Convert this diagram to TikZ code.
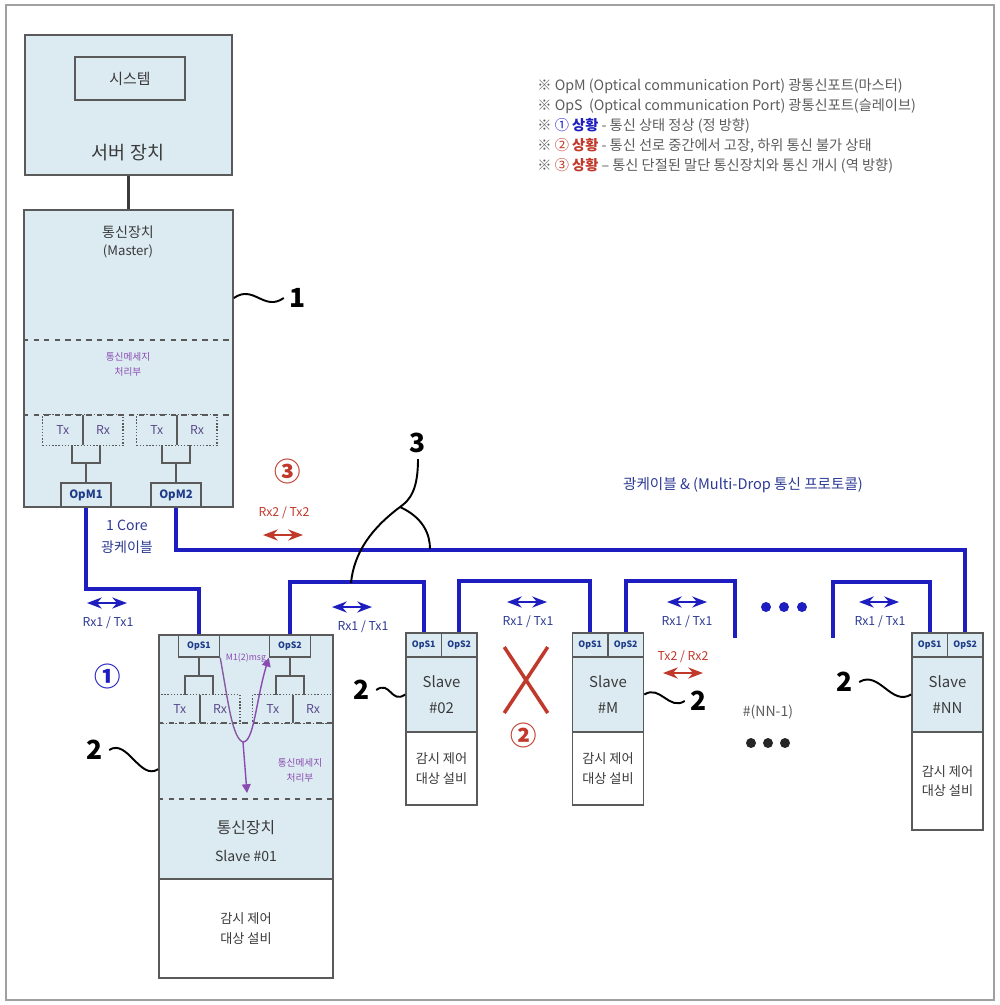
\documentclass[tikz,border=0pt]{standalone}
\usepackage{fontspec}
\setmainfont{Noto Sans CJK KR}
\usetikzlibrary{arrows.meta, positioning, fit, calc, shapes.misc}
\definecolor{DevBlue}{HTML}{DCEBF2}
\definecolor{LineGray}{HTML}{5A5A5A}
\definecolor{FrameGray}{HTML}{A0A0A0}
\definecolor{CableBlue}{HTML}{1E1EC0}
\definecolor{LabelBlue}{HTML}{2C3A94}
\definecolor{PortBlue}{HTML}{1F3C88}
\definecolor{AlarmRed}{HTML}{C0392B}
\definecolor{MsgPurple}{HTML}{8A4AB0}
\definecolor{TrxPurple}{HTML}{5A4A8A}
\definecolor{TextGray}{HTML}{3A3A3A}
\definecolor{NoteGray}{HTML}{5C5C5C}
\tikzset{
    % boxes
    devbox/.style={
        rectangle,
        draw=LineGray,
        fill=DevBlue,
        line width=1pt,
        inner sep=0pt,
        text=TextGray
    },
    eqbox/.style={
        rectangle,
        draw=LineGray,
        fill=white,
        line width=1pt,
        inner sep=0pt,
        align=center,
        text=TextGray,
        font=\fontsize{7.5}{11}\selectfont
    },
    portbox/.style={
        rectangle,
        draw=LineGray,
        fill=DevBlue,
        line width=0.8pt,
        inner sep=0pt,
        text=PortBlue,
        font=\fontsize{5}{6}\selectfont\bfseries
    },
    trxcell/.style={
        rectangle,
        inner sep=0pt,
        minimum width=0.79cm,
        text=TrxPurple,
        font=\fontsize{7}{8}\selectfont
    },
    trxgroup/.style={
        rectangle,
        draw=LineGray,
        densely dotted,
        line width=0.8pt,
        inner sep=0pt
    },
    msgtext/.style={
        align=center,
        text=MsgPurple,
        font=\fontsize{5.5}{8.5}\selectfont
    },
    note/.style={
        anchor=west,
        text=NoteGray,
        inner sep=0pt,
        font=\fontsize{8.1}{9}\selectfont
    },
    refnum/.style={
        font=\fontsize{15}{16}\selectfont\bfseries
    },
    casemark/.style={
        font=\fontsize{15}{16}\selectfont\bfseries
    },
    linklbl/.style={
        text=LabelBlue,
        font=\fontsize{7}{8}\selectfont
    },
    % lines
    wire/.style={draw=LineGray, line width=0.8pt},
    divider/.style={draw=LineGray, line width=1pt, dashed},
    cable/.style={draw=CableBlue, line width=2.2pt},
    duplex/.style={{Stealth}-{Stealth}, draw=CableBlue, line width=1.2pt},
    reverse/.style={{Stealth}-{Stealth}, draw=AlarmRed, line width=1.2pt},
    leader/.style={draw=black, line width=1.1pt},
    msgline/.style={draw=MsgPurple!70!gray, line width=0.8pt}
}

\begin{document}
\begin{tikzpicture}[x=0.02cm, y=-0.02cm]
    \useasboundingbox (0,0) rectangle (1000,1005);
    \draw[FrameGray, line width=1pt] (6,5) rectangle (994,1000);

    % Legend
    \node[note] (lg1) at (537,86) {※ OpM (Optical communication Port) 광통신포트(마스터)};
    \node[note] (lg2) at (537,106) {※ OpS\ \ (Optical communication Port) 광통신포트(슬레이브)};
    \node[note] (lg3) at (537,126) {※ {\color{CableBlue}① \bfseries 상황} - 통신 상태 정상 (정 방향)};
    \node[note] (lg4) at (537,146) {※ {\color{AlarmRed}② \bfseries 상황} - 통신 선로 중간에서 고장, 하위 통신 불가 상태};
    \node[note] (lg5) at (537,166) {※ {\color{AlarmRed}③ \bfseries 상황} – 통신 단절된 말단 통신장치와 통신 개시 (역 방향)};

    % Server
    \node[devbox, minimum width=4.14cm, minimum height=2.8cm] (server) at (128.5,105) {};
    \node[devbox, minimum width=2.2cm, minimum height=0.86cm, font=\fontsize{8.5}{10}\selectfont] (sys) at (130,78.5) {시스템};
    \node[text=TextGray, font=\fontsize{10.5}{12}\selectfont] (srvlbl) at (128,153) {서버 장치};

    % Master
    \node[devbox, minimum width=4.18cm, minimum height=5.94cm] (master) at (128.5,358.5) {};
    \draw[line width=1.6pt, draw=TextGray] (server.south) -- (master.north);
    \node[text=TextGray, font=\fontsize{8}{9}\selectfont] (mlbl1) at (128,232) {통신장치};
    \node[text=TextGray, font=\fontsize{7.5}{9}\selectfont] (mlbl2) at (128,251) {(Master)};
    \draw[divider] (master.west |- 0,340) -- (master.east |- 0,340);
    \draw[divider] (master.west |- 0,415) -- (master.east |- 0,415);
    \node[msgtext] (mmsg) at (128,364.5) {통신메세지\\처리부};

    % Master Tx/Rx and ports
    \node[trxcell, minimum height=0.6cm] (mtx1) at (62.75,430) {Tx};
    \node[trxcell, minimum height=0.6cm, right=0pt of mtx1] (mrx1) {Rx};
    \node[trxcell, minimum height=0.6cm] (mtx2) at (156.75,430) {Tx};
    \node[trxcell, minimum height=0.6cm, right=0pt of mtx2] (mrx2) {Rx};
    \node[trxgroup, fit=(mtx1)(mrx1)] (mgrp1) {};
    \node[trxgroup, fit=(mtx2)(mrx2)] (mgrp2) {};
    \draw[wire] (mtx1.north east) -- (mtx1.south east);
    \draw[wire] (mtx2.north east) -- (mtx2.south east);
    \node[portbox, minimum width=1.0cm, minimum height=0.48cm, font=\fontsize{6.5}{7}\selectfont\bfseries] (opm1) at (86,495) {OpM1};
    \node[portbox, minimum width=1.0cm, minimum height=0.48cm, font=\fontsize{6.5}{7}\selectfont\bfseries] (opm2) at (176,495) {OpM2};
    \draw[wire] (mtx1.south -| 72,0) |- (100,463) -- (mrx1.south -| 100,0);
    \draw[wire] (opm1.north) -- (opm1.north |- 0,463);
    \draw[wire] (mtx2.south -| 162,0) |- (190,463) -- (mrx2.south -| 190,0);
    \draw[wire] (opm2.north) -- (opm2.north |- 0,463);

    % Slave #01
    \node[devbox, minimum width=3.48cm, minimum height=4.88cm] (s1dev) at (246,757) {};
    \node[eqbox, minimum width=3.48cm, minimum height=1.98cm] (s1eq) at (246,928.5) {감시 제어\\대상 설비};
    \node[portbox, minimum width=0.82cm, minimum height=0.44cm] (s1ops1) at (199,646) {OpS1};
    \node[portbox, minimum width=0.82cm, minimum height=0.44cm] (s1ops2) at (290,646) {OpS2};
    \node[trxcell, minimum height=0.56cm] (s1tx1) at (179.75,709) {Tx};
    \node[trxcell, minimum height=0.56cm, right=0pt of s1tx1] (s1rx1) {Rx};
    \node[trxcell, minimum height=0.56cm] (s1tx2) at (272.75,709) {Tx};
    \node[trxcell, minimum height=0.56cm, right=0pt of s1tx2] (s1rx2) {Rx};
    \node[trxgroup, fit=(s1tx1)(s1rx1)] (s1grp1) {};
    \node[trxgroup, fit=(s1tx2)(s1rx2)] (s1grp2) {};
    \draw[wire] (s1tx1.north east) -- (s1tx1.south east);
    \draw[wire] (s1tx2.north east) -- (s1tx2.south east);
    \draw[wire] (s1ops1.south) -- (s1ops1.south |- 0,676);
    \draw[wire] (s1tx1.north -| 185,0) |- (213,676) -- (s1rx1.north -| 213,0);
    \draw[wire] (s1ops2.south) -- (s1ops2.south |- 0,676);
    \draw[wire] (s1tx2.north -| 276,0) |- (304,676) -- (s1rx2.north -| 304,0);
    \draw[divider] (s1dev.west |- 0,723) -- (s1dev.east |- 0,723);
    \draw[divider] (s1dev.west |- 0,799) -- (s1dev.east |- 0,799);
    \node[msgtext] (s1msg) at (300,770) {통신메세지\\처리부};
    \node[text=TextGray, font=\fontsize{9}{10}\selectfont] (s1lbl1) at (246,828) {통신장치};
    \node[text=TextGray, font=\fontsize{8}{9}\selectfont] (s1lbl2) at (246,856) {Slave \#01};

    % Message path inside Slave #01
    \coordinate (msgproc) at (247,793);
    \node[msgtext, font=\fontsize{5}{6}\selectfont] (msglbl) at (246,658) {M1(2)msg};
    \draw[msgline] (s1ops1.south east) .. controls (228,700) and (232,738) .. (243,742) coordinate (msgturn);
    \draw[msgline, -{Triangle[length=5pt, width=5pt]}, MsgPurple] (msgturn) .. controls (254,742) and (256,700) .. (s1ops2.south west);
    \draw[msgline, -{Triangle[length=5pt, width=5pt]}, MsgPurple] (msgturn) -- (msgproc);

    % Slaves #02, #M, #NN
    \foreach \nm/\x/\lbl/\eqh/\eqy in {s2/441.5/\#02/1.46/768.5, sm/608/\#M/1.46/768.5, sn/947.5/\#NN/1.96/781} {
        \node[portbox, minimum width=0.71cm, minimum height=0.48cm] (\nm ops1) at (\x-17.75,645) {OpS1};
        \node[portbox, minimum width=0.71cm, minimum height=0.48cm] (\nm ops2) at (\x+17.75,645) {OpS2};
        \node[devbox, minimum width=1.42cm, minimum height=1.5cm, align=center, font=\fontsize{8.5}{15}\selectfont] (\nm dev) at (\x,694.5) {Slave\\\lbl};
        \node[eqbox, minimum width=1.42cm, minimum height=\eqh cm] (\nm eq) at (\x,\eqy) {감시 제어\\대상 설비};
    }

    % Optical cables
    \coordinate (brkM) at (735,638);
    \coordinate (brkNN) at (833,638);
    \draw[cable] (opm1.south) -- ++(0,81) -| (s1ops1.north);
    \draw[cable] (opm2.south) -- ++(0,42) -| (snops2.north);
    \draw[cable] (s1ops2.north) -- ++(0,-52) -| (s2ops1.north);
    \draw[cable] (s2ops2.north) -- ++(0,-51) -| (smops1.north);
    \draw[cable] (smops2.north) -- ++(0,-51) -| (brkM);
    \draw[cable] (brkNN) -- ++(0,-56) -| (snops1.north);

    % Cable labels
    \node[text=LabelBlue, font=\fontsize{8}{9}\selectfont] (core1) at (127,525) {1 Core};
    \node[text=LabelBlue, font=\fontsize{8}{9}\selectfont] (core2) at (127,547) {광케이블};
    \node[text=LabelBlue, font=\fontsize{8.3}{9}\selectfont] (mdrop) at (743,485) {광케이블 \& (Multi-Drop 통신 프로토콜)};

    % Rx1 / Tx1 arrows
    \foreach \x/\y/\ax in {108/623/107, 363/627/352, 528/622/527, 687/622/687, 880/622/879} {
        \node[linklbl] (rt\x) at (\x,\y) {Rx1 / Tx1};
        \draw[duplex] (\ax-20,\y-20) -- (\ax+20,\y-20);
    }

    % Reverse direction arrows
    \node[text=AlarmRed, font=\fontsize{7}{8}\selectfont] (rev1) at (284,513) {Rx2 / Tx2};
    \draw[reverse] (263,535) -- (303,535);
    \node[text=AlarmRed, font=\fontsize{7}{8}\selectfont] (rev2) at (683,657) {Tx2 / Rx2};
    \draw[reverse] (663,673) -- (703,673);

    % Situation marks
    \node[casemark, text=CableBlue] (case1) at (108,676) {①};
    \node[casemark, text=AlarmRed] (case2) at (524,735) {②};
    \node[casemark, text=AlarmRed] (case3) at (288,471) {③};
    \node[cross out, draw=AlarmRed, line width=2pt, minimum width=0.8cm, minimum height=1.25cm] (fault) at (526,680) {};

    % Omitted slaves
    \foreach \x in {766,784,802} {
        \fill[CableBlue] (\x,607) circle (0.1cm);
    }
    \node[text=NoteGray, font=\fontsize{8}{9}\selectfont] (nnm1) at (768,712) {\#(NN-1)};
    \foreach \x in {751,768,785} {
        \fill[black!85] (\x,743) circle (0.1cm);
    }

    % Reference numerals
    \node[refnum] (n1) at (298,298) {1};
    \draw[leader] (master.north east |- n1) .. controls +(20,-14) and +(-20,14) .. (n1.west);
    \node[refnum] (n2a) at (95,750) {2};
    \draw[leader] (n2a.east) .. controls +(18,-12) and +(-18,12) .. ($(s1dev.north west)+(0,135)$);
    \node[refnum] (n2b) at (362,690) {2};
    \draw[leader] (n2b.east) .. controls +(14,-10) and +(-14,10) .. (s2dev.west);
    \node[refnum] (n2c) at (699,701) {2};
    \draw[leader] (smdev.east) .. controls +(16,-10) and +(-16,10) .. (n2c.west);
    \node[refnum] (n2d) at (845,682) {2};
    \draw[leader] (n2d.east) .. controls +(20,-12) and +(-20,12) .. (sndev.west);
    \node[refnum] (n3) at (418,443) {3};
    \coordinate (cab3a) at (351,583);
    \coordinate (cab3b) at (430,549);
    \draw[leader] (n3.south) .. controls (418,490) and (410,500) .. (400,507) coordinate (fork3);
    \draw[leader] (fork3) .. controls (372,528) and (354,552) .. (cab3a);
    \draw[leader] (fork3) .. controls (424,518) and (430,535) .. (cab3b);
\end{tikzpicture}
\end{document}
